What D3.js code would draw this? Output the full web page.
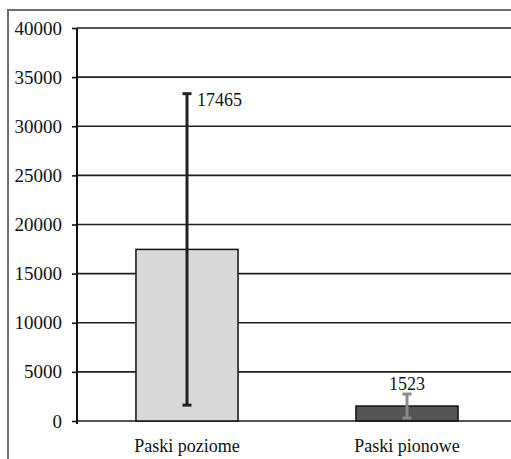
<!DOCTYPE html>
<html>
<head>
<meta charset="utf-8">
<script src="https://cdn.jsdelivr.net/npm/d3@7"></script>
<style>
  html, body { margin: 0; padding: 0; background: #fff; }
  svg { display: block; }
  svg text { font-family: "Liberation Serif", "Times New Roman", serif; }
</style>
</head>
<body>
<div id="chart"></div>
<script>
// values
const categories = ["Paski poziome", "Paski pionowe"];
const values = [17465, 1523];
const errors = [15850, 1220];
const yTicks = [0, 5000, 10000, 15000, 20000, 25000, 30000, 35000, 40000];

const barFill = ["#d9d9d9", "#555555"];
const errColor = ["#222222", "#8a8a8a"];

const width = 511,
      height = 459;
const margin = {top: 28, left: 77, bottom: 38};
const serif = "'Liberation Serif', 'Times New Roman', serif";

const svg = d3.select("#chart")
  .append("svg")
    .attr("width", width)
    .attr("height", height);

const x = d3.scaleBand()
  .domain(categories)
  .range([margin.left, 517])
  .paddingInner(0.536)
  .paddingOuter(0.268);

const y = d3.scaleLinear()
  .domain([0, 40000])
  .range([height - margin.bottom, margin.top]);

// outer frame (only top and left survive the crop)
svg.append("line")
  .attr("x1", 7).attr("x2", width)
  .attr("y1", 10).attr("y2", 10)
  .attr("stroke", "#6e6e6e").attr("stroke-width", 2);
svg.append("line")
  .attr("x1", 8).attr("x2", 8)
  .attr("y1", 10).attr("y2", height)
  .attr("stroke", "#6e6e6e").attr("stroke-width", 2);

// gridlines
svg.append("g")
  .selectAll("line")
  .data(yTicks)
  .enter()
  .append("line")
    .attr("x1", margin.left)
    .attr("x2", width)
    .attr("y1", d => y(d))
    .attr("y2", d => y(d))
    .attr("stroke", "#1e1e1e")
    .attr("stroke-width", 1.6);

// y axis
const yAxis = svg.append("g")
  .attr("transform", `translate(${margin.left},0)`)
  .call(d3.axisLeft(y)
        .tickValues(yTicks)
        .tickSize(5)
        .tickPadding(10)
        .tickFormat(d => d.toString()));
yAxis.attr("font-family", serif).attr("font-size", 19);
yAxis.select(".domain")
  .attr("d", `M0,${y(40000)}V${y(0) + 3}`)
  .attr("stroke", "#111")
  .attr("stroke-width", 2);
yAxis.selectAll(".tick line")
  .attr("stroke", "#111")
  .attr("stroke-width", 1.6);
yAxis.selectAll("text")
  .attr("fill", "#111");

// bars
svg.selectAll(".bar")
  .data(values)
  .enter()
  .append("rect")
    .attr("class", "bar")
    .attr("x", (d, i) => x(categories[i]))
    .attr("y", d => y(d))
    .attr("width", x.bandwidth())
    .attr("height", d => y(0) - y(d))
    .attr("fill", (d, i) => barFill[i])
    .attr("stroke", "#111")
    .attr("stroke-width", 1.5);

// error bars
const cx = i => x(categories[i]) + x.bandwidth() / 2;
const errG = svg.selectAll(".err")
  .data(values)
  .enter()
  .append("g")
    .attr("class", "err")
    .attr("stroke", (d, i) => errColor[i])
    .attr("stroke-width", 3);
errG.append("line")
  .attr("x1", (d, i) => cx(i)).attr("x2", (d, i) => cx(i))
  .attr("y1", (d, i) => y(d + errors[i]))
  .attr("y2", (d, i) => y(d - errors[i]));
errG.append("line")
  .attr("x1", (d, i) => cx(i) - 4.5).attr("x2", (d, i) => cx(i) + 4.5)
  .attr("y1", (d, i) => y(d + errors[i]))
  .attr("y2", (d, i) => y(d + errors[i]));
errG.append("line")
  .attr("x1", (d, i) => cx(i) - 4.5).attr("x2", (d, i) => cx(i) + 4.5)
  .attr("y1", (d, i) => y(d - errors[i]))
  .attr("y2", (d, i) => y(d - errors[i]));

// value labels
svg.append("text")
  .attr("x", cx(0) + 10)
  .attr("y", y(values[0] + errors[0]) + 12)
  .attr("font-family", serif).attr("font-size", 18)
  .attr("fill", "#111")
  .text(values[0]);
svg.append("text")
  .attr("x", cx(1))
  .attr("y", y(values[1] + errors[1]) - 4)
  .attr("text-anchor", "middle")
  .attr("font-family", serif).attr("font-size", 18)
  .attr("fill", "#111")
  .text(values[1]);

// category labels
svg.selectAll(".cat")
  .data(categories)
  .enter()
  .append("text")
    .attr("class", "cat")
    .attr("x", d => x(d) + x.bandwidth() / 2)
    .attr("y", 452)
    .attr("text-anchor", "middle")
    .attr("font-family", serif).attr("font-size", 18)
    .attr("fill", "#111")
    .text(d => d);
</script>
</body>
</html>
